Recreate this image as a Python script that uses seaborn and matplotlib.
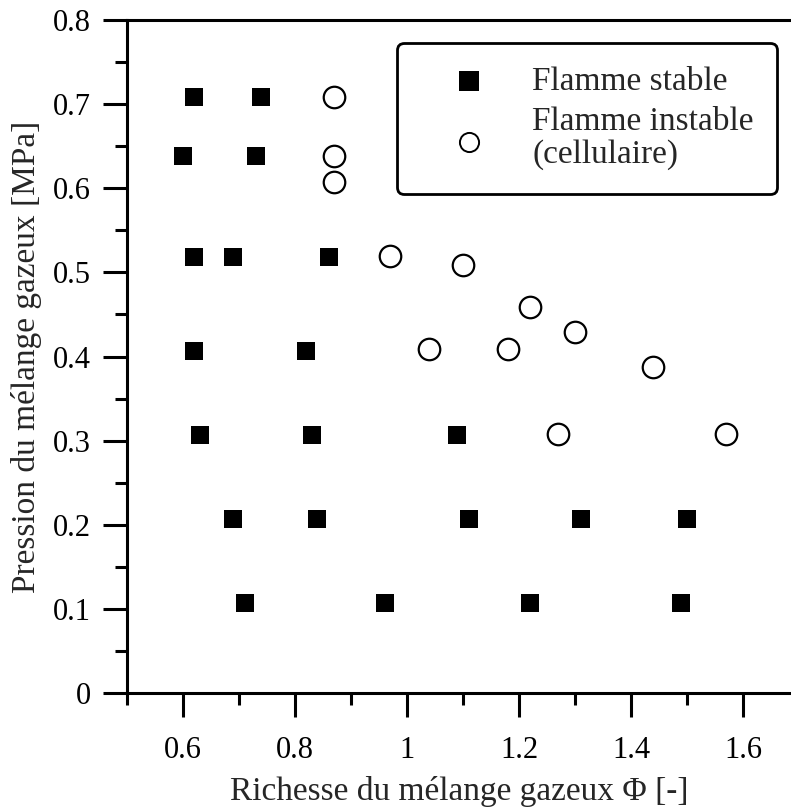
import numpy as np
import pandas as pd
import matplotlib
matplotlib.use('Agg')
import matplotlib.pyplot as plt
from matplotlib.ticker import MultipleLocator, FuncFormatter
import seaborn as sns

# Données
phi_stable = [0.62, 0.74, 0.60, 0.73, 0.62, 0.69, 0.86, 0.62, 0.82, 0.63, 0.83, 1.09,
              0.69, 0.84, 1.11, 1.31, 1.50, 0.71, 0.96, 1.22, 1.49]
p_stable = [0.708, 0.708, 0.638, 0.638, 0.518, 0.518, 0.518, 0.407, 0.407, 0.307, 0.307, 0.307,
            0.207, 0.207, 0.207, 0.207, 0.207, 0.107, 0.107, 0.107, 0.107]

phi_instable = [0.87, 0.87, 0.87, 0.97, 1.10, 1.22, 1.30, 1.04, 1.18, 1.44, 1.27, 1.57]
p_instable = [0.708, 0.638, 0.608, 0.519, 0.509, 0.459, 0.429, 0.409, 0.409, 0.388, 0.308, 0.308]

xticks = [0.6, 0.8, 1.0, 1.2, 1.4, 1.6]
yticks = [0, 0.1, 0.2, 0.3, 0.4, 0.5, 0.6, 0.7, 0.8]

df_stable = pd.DataFrame({'phi': phi_stable, 'p': p_stable})
df_instable = pd.DataFrame({'phi': phi_instable, 'p': p_instable})

sns.set_style('white')
plt.rcParams['font.family'] = ['Liberation Serif', 'DejaVu Serif']

fig = plt.figure(figsize=(7.91, 8.07), dpi=100)
ax = fig.add_axes([127 / 791, 114 / 807, 664 / 791, 673 / 807])

sns.scatterplot(data=df_stable, x='phi', y='p', marker='s', s=169, color='black',
                edgecolor='black', linewidth=0, label='Flamme stable', ax=ax, clip_on=False)
sns.scatterplot(data=df_instable, x='phi', y='p', marker='o', s=240, facecolor='white',
                edgecolor='black', linewidth=1.6, label='Flamme instable\n(cellulaire)',
                ax=ax, clip_on=False)

ax.set_xlim(0.5, 0.5 + 664 / 560)
ax.set_ylim(0, 0.8)

ax.set_xticks(xticks)
ax.set_yticks(yticks)
ax.xaxis.set_minor_locator(MultipleLocator(0.1))
ax.yaxis.set_minor_locator(MultipleLocator(0.05))
fmt = FuncFormatter(lambda v, pos: ('%g' % round(v, 2)))
ax.xaxis.set_major_formatter(fmt)
ax.yaxis.set_major_formatter(fmt)

for side in ['left', 'bottom', 'top']:
    ax.spines[side].set_visible(True)
    ax.spines[side].set_linewidth(2.2)
    ax.spines[side].set_color('black')
ax.spines['right'].set_visible(False)

ax.tick_params(which='major', direction='out', length=17, width=2.2, labelsize=22,
               colors='black', pad=9, left=True, bottom=True, top=False, right=False)
ax.tick_params(which='minor', direction='out', length=8.5, width=2.2,
               colors='black', left=True, bottom=True, top=False, right=False)
ax.tick_params(axis='x', which='major', pad=14)

ax.set_xlabel('Richesse du mélange gazeux Φ [-]', fontsize=24, labelpad=8)
ax.set_ylabel('Pression du mélange gazeux [MPa]', fontsize=24, labelpad=8)

leg = ax.legend(loc='upper right', bbox_to_anchor=(0.979, 0.966), borderaxespad=0,
                fontsize=24, frameon=True, fancybox=True, framealpha=1,
                edgecolor='black', borderpad=0.7, handlelength=2.9, handletextpad=0.45,
                labelspacing=0.3)
leg.get_frame().set_linewidth(2.0)
leg.legend_handles[0].set_sizes([225])
leg.legend_handles[1].set_sizes([190])
leg.legend_handles[1].set_linewidth(1.4)
for t in leg.get_texts():
    t.set_linespacing(1.1)

fig.savefig('out.png', dpi=100)
